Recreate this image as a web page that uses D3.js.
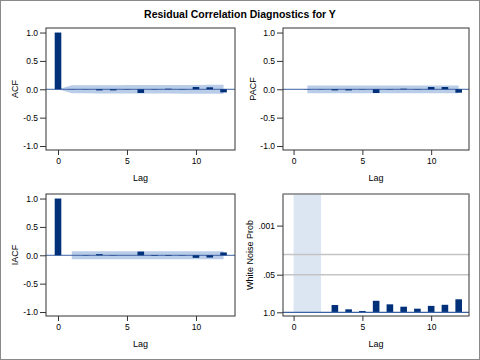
<!DOCTYPE html>
<html><head><meta charset="utf-8">
<script src="https://cdn.jsdelivr.net/npm/d3@7"></script>
<style>body{margin:0;background:#fff}svg{display:block}text{font-family:"Liberation Sans",Arial,Helvetica,sans-serif}</style>
</head><body>
<svg id="c" width="480" height="360"></svg>
<script>
// ---- data ----
const title = "Residual Correlation Diagnostics for Y";
const lagsAll = [0,1,2,3,4,5,6,7,8,9,10,11,12];
const lagsFrom1 = [1,2,3,4,5,6,7,8,9,10,11,12];
const acfValues  = [1.0, 0.003, -0.003, -0.02, -0.02, -0.005, -0.065, -0.005, 0.01, -0.005, 0.04, 0.035, -0.055];
const acfBand    = [0, 0.072, 0.072, 0.073, 0.073, 0.074, 0.074, 0.076, 0.076, 0.077, 0.077, 0.078, 0.078];
const pacfValues = [0.003, -0.003, -0.02, -0.02, -0.005, -0.065, -0.005, 0.01, -0.005, 0.04, 0.04, -0.06];
const pacfBand   = [0.068, 0.068, 0.068, 0.068, 0.068, 0.068, 0.068, 0.068, 0.068, 0.068, 0.068, 0.068];
const iacfValues = [1.0, 0.0, -0.005, 0.02, 0.005, 0.0, 0.065, -0.01, -0.01, 0.005, -0.045, -0.04, 0.05];
const iacfBand   = [0.07, 0.07, 0.07, 0.07, 0.07, 0.07, 0.07, 0.07, 0.07, 0.07, 0.07, 0.07];
const wnLags     = [3,4,5,6,7,8,9,10,11,12];
const wnProb     = [0.56, 0.79, 0.90, 0.40, 0.53, 0.64, 0.75, 0.60, 0.55, 0.355];
const wnMissing  = [0, 2];           // lag range without a test
const wnRefP     = [0.05, 0.01];
const corrTicks  = [-1, -0.5, 0, 0.5, 1];
const lagTicks   = [0, 5, 10];
const wnTickP    = [1.0, 0.05, 0.001];
const wnTickLabels = [".001", ".05", "1.0"].reverse();

// ---- layout ----
const svg = d3.select("#c");
const rows = [[28,150],[194,316]];
const cols = [{r:[46,235], d:[-0.87,12.83]}, {r:[283,469], d:[-0.77,12.75]}];
const barColor = "#01307a", bandColor = "#bacde8", refBlue = "#3c62a4";
const barW = 6.6;

svg.append("rect").attr("x",0.5).attr("y",0.5).attr("width",479).attr("height",359)
  .attr("fill","none").attr("stroke","#8a8a8a");

svg.append("text").attr("x",240).attr("y",18.3).attr("text-anchor","middle")
  .attr("font-size","10.5px").attr("font-weight","bold").text(title);

function panel(ci, ri, yTitle, yTitleX, yScale, yTicks, yFmt) {
  const c = cols[ci], rw = rows[ri];
  const x = d3.scaleLinear().domain(c.d).range(c.r);
  const g = svg.append("g");
  const axY = d3.axisLeft(yScale).tickValues(yTicks).tickSize(6).tickPadding(2).tickFormat(yFmt);
  const ay = g.append("g").attr("transform",`translate(${c.r[0]},0)`).call(axY);
  const axX = d3.axisBottom(x).tickValues(lagTicks).tickSize(5).tickPadding(3).tickFormat(d3.format("d"));
  const ax = g.append("g").attr("transform",`translate(0,${rw[1]})`).call(axX);
  [ay, ax].forEach(a => {
    a.select(".domain").remove();
    a.selectAll("line").attr("stroke","#333");
    a.selectAll("text").attr("font-size","8.5px").attr("fill","#000")
      .style("font-family",'"Liberation Sans",Arial,sans-serif');
  });
  g.append("text").attr("x",(c.r[0]+c.r[1])/2).attr("y",rw[1]+31).attr("text-anchor","middle")
    .attr("font-size","9px").text("Lag");
  g.append("text").attr("transform",`translate(${yTitleX},${(rw[0]+rw[1])/2}) rotate(-90)`)
    .attr("text-anchor","middle").attr("font-size","9px").text(yTitle);
  const plot = g.append("g");
  return {x, g, plot, c, rw};
}

function drawCorr(ci, ri, name, tx, lags, vals, bandLags, band) {
  const y = d3.scaleLinear().domain([-1.07,1.08]).range([rows[ri][1], rows[ri][0]]);
  const p = panel(ci, ri, name, tx, y, corrTicks, d => d.toFixed(1));
  const area = d3.area().x((d,i)=>p.x(bandLags[i])).y0(d=>y(-d)).y1(d=>y(d));
  p.plot.append("path").datum(band).attr("d",area).attr("fill",bandColor);
  p.plot.append("line").attr("x1",p.c.r[0]).attr("x2",p.c.r[1]).attr("y1",y(0)).attr("y2",y(0))
    .attr("stroke",refBlue).attr("stroke-width",1);
  p.plot.selectAll("rect.bar").data(vals).join("rect").attr("class","bar")
    .attr("x",(d,i)=>p.x(lags[i])-barW/2).attr("width",barW)
    .attr("y",d=>Math.min(y(0),y(d))).attr("height",d=>Math.abs(y(0)-y(d)))
    .attr("fill",barColor);
  p.g.append("rect").attr("x",p.c.r[0]).attr("y",p.rw[0]).attr("width",p.c.r[1]-p.c.r[0])
    .attr("height",p.rw[1]-p.rw[0]).attr("fill","none").attr("stroke","#333");
}

drawCorr(0, 0, "ACF", 18, lagsAll, acfValues, lagsAll, acfBand);
drawCorr(1, 0, "PACF", 256, lagsFrom1, pacfValues, lagsFrom1, pacfBand);
drawCorr(0, 1, "IACF", 18, lagsAll, iacfValues, lagsFrom1, iacfBand);

// White noise panel: -log10(p) scale
(function(){
  const ri = 1, ci = 1;
  const y = d3.scaleLinear().domain([-0.128, 4.093]).range([rows[ri][1], rows[ri][0]]);
  const tv = wnTickP.map(p => -Math.log10(p));
  const p = panel(ci, ri, "White Noise Prob", 253, y, tv, (d,i) => wnTickLabels[i]);
  p.plot.append("rect").attr("x",p.x(wnMissing[0])).attr("width",p.x(wnMissing[1])-p.x(wnMissing[0]))
    .attr("y",p.rw[0]).attr("height",y(0)-p.rw[0]).attr("fill","#dce6f2");
  p.plot.selectAll("line.ref").data(wnRefP).join("line").attr("class","ref")
    .attr("x1",p.c.r[0]).attr("x2",p.c.r[1])
    .attr("y1",d=>y(-Math.log10(d))).attr("y2",d=>y(-Math.log10(d)))
    .attr("stroke","#c4c4c4").attr("stroke-width",1.5);
  p.plot.selectAll("rect.bar").data(wnProb).join("rect").attr("class","bar")
    .attr("x",(d,i)=>p.x(wnLags[i])-barW/2).attr("width",barW)
    .attr("y",d=>y(-Math.log10(d))).attr("height",d=>y(0)-y(-Math.log10(d)))
    .attr("fill",barColor);
  p.plot.append("line").attr("x1",p.c.r[0]).attr("x2",p.c.r[1]).attr("y1",y(0)).attr("y2",y(0))
    .attr("stroke",refBlue).attr("stroke-width",1.2);
  p.g.append("rect").attr("x",p.c.r[0]).attr("y",p.rw[0]).attr("width",p.c.r[1]-p.c.r[0])
    .attr("height",p.rw[1]-p.rw[0]).attr("fill","none").attr("stroke","#333");
  p.g.append("line").attr("x1",p.c.r[0]).attr("x2",p.c.r[1]).attr("y1",p.rw[0]).attr("y2",p.rw[0])
    .attr("stroke","#a0a0a0").attr("stroke-width",1.5);
})();
</script>
</body></html>
